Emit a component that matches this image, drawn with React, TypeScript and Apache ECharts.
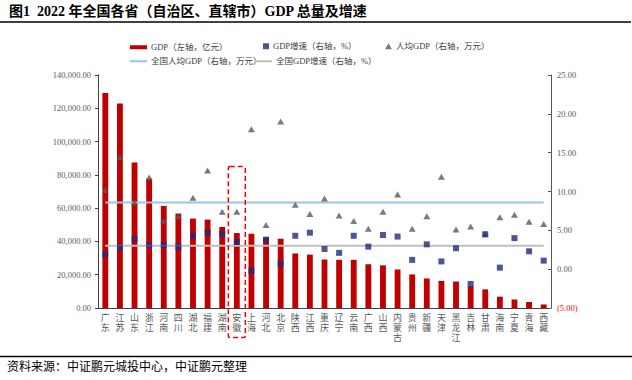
import React, { useEffect, useRef } from "react";
import * as echarts from "echarts";

const categories = ["广东", "江苏", "山东", "浙江", "河南", "四川", "湖北", "福建", "湖南", "安徽", "上海", "河北", "北京", "陕西", "江西", "重庆", "辽宁", "云南", "广西", "山西", "内蒙古", "贵州", "新疆", "天津", "黑龙江", "吉林", "甘肃", "海南", "宁夏", "青海", "西藏"];
const gdp = [129118.6, 122875.6, 87435.1, 77715.0, 61345.1, 56749.8, 53734.9, 53109.9, 48670.4, 45045.0, 44652.8, 42370.4, 41610.9, 32772.7, 32074.7, 29129.0, 28975.1, 28954.2, 26300.9, 25642.6, 23159.0, 20164.6, 17741.3, 16311.3, 15901.0, 13070.2, 11201.6, 6818.2, 5069.6, 3610.1, 2132.6];
const gdpGrowth = [1.9, 2.8, 3.9, 3.1, 3.1, 2.9, 4.3, 4.7, 4.5, 3.5, -0.2, 3.8, 0.7, 4.3, 4.7, 2.6, 2.1, 4.3, 2.9, 4.4, 4.2, 1.2, 3.2, 1.0, 2.7, -1.9, 4.5, 0.2, 4.0, 2.3, 1.1];
const perCapita = [10.2, 14.4, 8.6, 11.8, 6.2, 6.8, 9.2, 12.7, 7.4, 7.4, 18.0, 5.7, 19.0, 8.3, 7.1, 9.1, 6.9, 6.2, 5.2, 7.4, 9.6, 5.2, 6.8, 11.9, 5.1, 5.5, 4.5, 6.7, 7.0, 6.1, 5.8];
const nationalPerCapita = 8.57;
const nationalGrowth = 3.0;
const highlighted = "安徽";

const NAMES = {
  gdp: "GDP（左轴，亿元）",
  growth: "GDP增速（右轴，%）",
  perCapita: "人均GDP（右轴，万元）",
  natPer: "全国人均GDP（右轴，万元）",
  natGrowth: "全国GDP增速（右轴，%）",
};

const FONT = "'Liberation Serif', 'Noto Sans CJK SC', serif";
const RED = "#C00000";
const NAVY = "#1F2C7C";
const TRI = "#595959";
const LBLUE = "#9DC3E6";
const GREY = "#BFBFBF";

function legendAt(name: string, left: number, top: number, icon: string, w: number, h: number) {
  return {
    data: [{ name, icon }],
    left,
    top,
    itemWidth: w,
    itemHeight: h,
    padding: 0,
    itemGap: 0,
    selectedMode: false,
    textStyle: { fontFamily: FONT, fontSize: 8.5, color: "#404040", padding: [0, 0, 0, -1] },
  };
}

export default function App() {
  const ref = useRef<HTMLDivElement>(null);
  useEffect(() => {
    const chart = echarts.init(ref.current!, null, { renderer: "svg" });
    const baseGraphic: any[] = [
      {
        type: "text",
        left: 9,
        top: 4,
        style: {
          text: "图1  2022 年全国各省（自治区、直辖市）GDP 总量及增速",
          font: `bold 14px ${FONT}`,
          fill: "#000",
        },
      },
      { type: "line", shape: { x1: 0, y1: 22, x2: 631, y2: 22 }, style: { stroke: "#000", lineWidth: 1.5 } },
      { type: "line", shape: { x1: 0, y1: 356.5, x2: 632, y2: 356.5 }, style: { stroke: "#000", lineWidth: 1.5 } },
      {
        type: "text",
        left: 7,
        top: 359,
        style: {
          text: "资料来源：中证鹏元城投中心，中证鹏元整理",
          font: "12px 'Noto Sans CJK SC', sans-serif",
          fill: "#000",
        },
      },
    ];
    const option: any = {
      animation: false,
      backgroundColor: "#fff",
      textStyle: { fontFamily: FONT },
      grid: { left: 98, right: 81, top: 75, bottom: 72, containLabel: false },
      legend: [
        legendAt(NAMES.gdp, 130, 43, "rect", 17, 4),
        legendAt(NAMES.growth, 263, 42, "rect", 6, 6),
        legendAt(NAMES.perCapita, 385, 42, "triangle", 7, 6),
        legendAt(NAMES.natPer, 130, 57, "rect", 17, 2),
        legendAt(NAMES.natGrowth, 255, 57, "rect", 17, 2),
      ],
      xAxis: {
        type: "category",
        data: categories,
        axisTick: { show: false },
        axisLine: { lineStyle: { color: "#404040", width: 1 } },
        axisLabel: {
          interval: 0,
          fontSize: 9,
          lineHeight: 10,
          color: "#595959",
          margin: 5,
          fontFamily: FONT,
          formatter: (v: string) => v.split("").join("\n"),
        },
      },
      yAxis: [
        {
          type: "value",
          min: 0,
          max: 140000,
          interval: 20000,
          splitLine: { show: false },
          axisLine: { show: true, lineStyle: { color: "#404040", width: 1 } },
          axisTick: { show: true, length: 3, lineStyle: { color: "#404040" } },
          axisLabel: {
            fontSize: 8.5,
            color: "#595959",
            margin: 7,
            fontFamily: FONT,
            formatter: (v: number) =>
              v.toLocaleString("en-US", { minimumFractionDigits: 2, maximumFractionDigits: 2 }),
          },
        },
        {
          type: "value",
          min: -5,
          max: 25,
          interval: 5,
          position: "right",
          splitLine: { show: false },
          axisLine: { show: true, lineStyle: { color: "#595959", width: 1 } },
          axisTick: { show: true, inside: true, length: 3, lineStyle: { color: "#595959" } },
          axisLabel: {
            fontSize: 8.5,
            color: "#595959",
            margin: 6,
            fontFamily: FONT,
            formatter: (v: number) =>
              v < 0 ? `{neg|(${Math.abs(v).toFixed(2)})}` : v.toFixed(2),
            rich: { neg: { color: "#FF0000", fontSize: 8.5, fontFamily: FONT } },
          },
        },
      ],
      series: [
        {
          name: NAMES.gdp,
          type: "bar",
          data: gdp,
          yAxisIndex: 0,
          barWidth: "40%",
          itemStyle: { color: RED },
          z: 1,
        },
        {
          name: NAMES.natPer,
          type: "line",
          yAxisIndex: 1,
          data: [
            [categories[0], nationalPerCapita],
            [categories[categories.length - 1], nationalPerCapita],
          ],
          showSymbol: false,
          symbol: "none",
          lineStyle: { color: LBLUE, width: 2 },
          itemStyle: { color: LBLUE },
          z: 2,
        },
        {
          name: NAMES.natGrowth,
          type: "line",
          yAxisIndex: 1,
          data: [
            [categories[0], nationalGrowth],
            [categories[categories.length - 1], nationalGrowth],
          ],
          showSymbol: false,
          symbol: "none",
          lineStyle: { color: GREY, width: 2 },
          itemStyle: { color: GREY },
          z: 2,
        },
        {
          name: NAMES.growth,
          type: "scatter",
          yAxisIndex: 1,
          data: gdpGrowth,
          symbol: "rect",
          symbolSize: 6,
          itemStyle: { color: NAVY },
          z: 4,
        },
        {
          name: NAMES.perCapita,
          type: "scatter",
          yAxisIndex: 1,
          data: perCapita,
          symbol: "triangle",
          symbolSize: [7, 6],
          itemStyle: { color: TRI },
          z: 3,
        },
      ],
      graphic: baseGraphic,
    };
    chart.setOption(option);
    const base = chart.convertToPixel({ xAxisIndex: 0, yAxisIndex: 0 }, [highlighted, 0]) as number[];
    if (base) {
      chart.setOption({
        graphic: [
          ...baseGraphic,
          {
            type: "rect",
            shape: { x: base[0] - 8.5, y: base[1] - 141.5, width: 17, height: 171, r: 1.5 },
            style: { fill: "none", stroke: "#FF0000", lineWidth: 1.5, lineDash: [5, 3] },
            z: 10,
          },
        ],
      });
    }
    return () => chart.dispose();
  }, []);
  return (
    <div
      ref={ref}
      style={{ position: "fixed", left: 0, top: 0, width: 632, height: 380, background: "#fff" }}
    />
  );
}
